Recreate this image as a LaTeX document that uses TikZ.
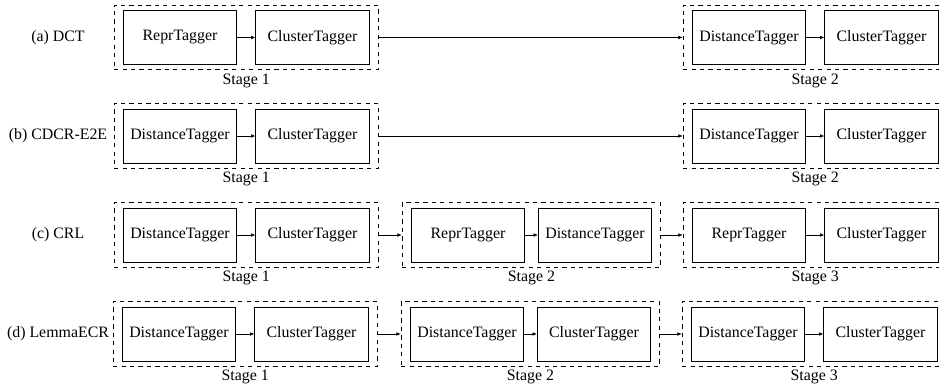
\documentclass[tikz,border=0pt]{standalone}
\usepackage{fontspec}
\setmainfont{Liberation Serif}
\usetikzlibrary{fit,arrows.meta}

\begin{document}
\begin{tikzpicture}[
  tagger/.style={rectangle, draw, line width=0.7pt, minimum width=2.83cm, minimum height=1.35cm, inner sep=1pt},
  stage/.style={rectangle, draw, dashed, line width=0.6pt, inner xsep=0.22cm, inner ysep=0.12cm},
  stagelabel/.style={below, inner sep=2.2pt},
  method/.style={inner sep=1pt},
  >={Latex[length=1.1mm,width=0.9mm]},
  font=\fontsize{11.3}{13}\selectfont
]
\useasboundingbox (0,0) rectangle (23.475,-9.675);
\clip (0,0) rectangle (23.475,-9.675);

% (a) DCT
\node[method] (ma) at (1.45,-0.9375) {(a) DCT};
\node[tagger] (a1) at (4.5,-0.9375) {ReprTagger};
\node[tagger, right of=a1, node distance=3.3125cm] (a2) {ClusterTagger};
\node[tagger, right of=a2, node distance=10.9125cm] (a3) {DistanceTagger};
\node[tagger, right of=a3, node distance=3.3125cm] (a4) {ClusterTagger};
\node[stage, fit=(a1)(a2)] (sa1) {};
\node[stage, fit=(a3)(a4)] (sa2) {};
\node[stagelabel] (la1) at (sa1.south) {Stage 1};
\node[stagelabel] (la2) at (sa2.south) {Stage 2};
\draw[->] (a1) -- (a2);
\draw[->] (a3) -- (a4);
\draw[->] (sa1) -- (sa2);

% (b) CDCR-E2E
\node[method] (mb) at (1.45,-3.4) {(b) CDCR-E2E};
\node[tagger] (b1) at (4.5,-3.4) {DistanceTagger};
\node[tagger, right of=b1, node distance=3.3125cm] (b2) {ClusterTagger};
\node[tagger, right of=b2, node distance=10.9125cm] (b3) {DistanceTagger};
\node[tagger, right of=b3, node distance=3.3125cm] (b4) {ClusterTagger};
\node[stage, fit=(b1)(b2)] (sb1) {};
\node[stage, fit=(b3)(b4)] (sb2) {};
\node[stagelabel] (lb1) at (sb1.south) {Stage 1};
\node[stagelabel] (lb2) at (sb2.south) {Stage 2};
\draw[->] (b1) -- (b2);
\draw[->] (b3) -- (b4);
\draw[->] (sb1) -- (sb2);

% (c) CRL
\node[method] (mc) at (1.45,-5.875) {(c) CRL};
\node[tagger] (c1) at (4.5,-5.875) {DistanceTagger};
\node[tagger, right of=c1, node distance=3.3125cm] (c2) {ClusterTagger};
\node[tagger, right of=c2, node distance=3.8875cm] (c3) {ReprTagger};
\node[tagger, right of=c3, node distance=3.175cm] (c4) {DistanceTagger};
\node[tagger, right of=c4, node distance=3.85cm] (c5) {ReprTagger};
\node[tagger, right of=c5, node distance=3.3125cm] (c6) {ClusterTagger};
\node[stage, fit=(c1)(c2)] (sc1) {};
\node[stage, fit=(c3)(c4)] (sc2) {};
\node[stage, fit=(c5)(c6)] (sc3) {};
\node[stagelabel] (lc1) at (sc1.south) {Stage 1};
\node[stagelabel] (lc2) at (sc2.south) {Stage 2};
\node[stagelabel] (lc3) at (sc3.south) {Stage 3};
\draw[->] (c1) -- (c2);
\draw[->] (c3) -- (c4);
\draw[->] (c5) -- (c6);
\draw[->] (sc1) -- (sc2);
\draw[->] (sc2) -- (sc3);

% (d) LemmaECR
\node[method] (md) at (1.45,-8.35) {(d) LemmaECR};
\node[tagger] (d1) at (4.475,-8.35) {DistanceTagger};
\node[tagger, right of=d1, node distance=3.3125cm] (d2) {ClusterTagger};
\node[tagger, right of=d2, node distance=3.8875cm] (d3) {DistanceTagger};
\node[tagger, right of=d3, node distance=3.175cm] (d4) {ClusterTagger};
\node[tagger, right of=d4, node distance=3.85cm] (d5) {DistanceTagger};
\node[tagger, right of=d5, node distance=3.3125cm] (d6) {ClusterTagger};
\node[stage, fit=(d1)(d2)] (sd1) {};
\node[stage, fit=(d3)(d4)] (sd2) {};
\node[stage, fit=(d5)(d6)] (sd3) {};
\node[stagelabel] (ld1) at (sd1.south) {Stage 1};
\node[stagelabel] (ld2) at (sd2.south) {Stage 2};
\node[stagelabel] (ld3) at (sd3.south) {Stage 3};
\draw[->] (d1) -- (d2);
\draw[->] (d3) -- (d4);
\draw[->] (d5) -- (d6);
\draw[->] (sd1) -- (sd2);
\draw[->] (sd2) -- (sd3);
\end{tikzpicture}
\end{document}
